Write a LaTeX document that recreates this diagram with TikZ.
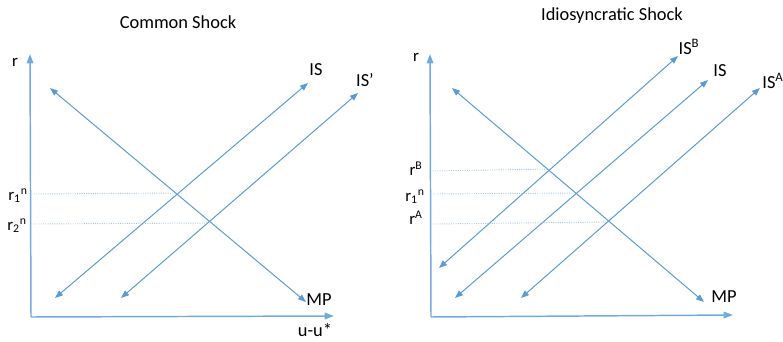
\documentclass[tikz,border=0pt]{standalone}
\usepackage{fontspec}
\setmainfont{Carlito}
\usetikzlibrary{arrows.meta}
\definecolor{lblue}{RGB}{91,155,213}
\definecolor{pblue}{RGB}{165,198,232}
\tikzset{
  % axes
  Ax/.style ={-{Triangle[length=7pt,width=5pt]},line width=1.1pt,color=lblue!85},
  % IS / MP curves, tips on both ends
  Crv/.style={{Triangle[length=6pt,width=4.5pt]}-{Triangle[length=6pt,width=4.5pt]},
              line width=0.75pt,color=lblue},
  % rate levels
  Lvl/.style={densely dotted,line width=0.7pt,color=pblue},
  % text
  Ttl/.style={font=\fontsize{13.8}{15}\selectfont,inner sep=0pt},
  Lab/.style={font=\fontsize{13.8}{15}\selectfont,inner sep=0pt},
  Rl/.style ={font=\fontsize{12.6}{14}\selectfont,inner sep=0pt},
}
\begin{document}
\begin{tikzpicture}[x=0.75pt,y=-0.75pt]
  \useasboundingbox (0,0) rectangle (783,342);

  % ---- Common Shock
  \node[Ttl] at (178,22) (t1) {Common Shock};
  \coordinate (o1) at (31,317);
  \coordinate (y1) at (30,54);
  \coordinate (x1) at (334,316);
  \draw[Ax] (o1)--(y1);
  \draw[Ax] (o1)--(x1);
  \node[Rl] at (15,62) (r1) {r};
  \node[Lab] at (315,330) (u1) {u-u*};

  \coordinate (mpa) at (50,88);   \coordinate (mpb) at (306,302);
  \coordinate (isa) at (55,298);  \coordinate (isb) at (308,83);
  \coordinate (ipa) at (121,298); \coordinate (ipb) at (358,93);
  \draw[Crv] (mpa)--(mpb);
  \draw[Crv] (isa)--(isb);
  \draw[Crv] (ipa)--(ipb);
  \node[Lab] at (316,70) (lis)  {IS};
  \node[Lab] at (365,80) (lisp) {IS’};
  \node[Lab] at (319,300) (lmp) {MP};

  \coordinate (a1) at (34,194); \coordinate (b1) at (177,193);
  \coordinate (a2) at (34,224); \coordinate (b2) at (210,223);
  \draw[Lvl] (a1)--(b1);
  \draw[Lvl] (a2)--(b2);
  \node[Rl] at (18,196) (rn1) {r\textsubscript{1}\textsuperscript{n}};
  \node[Rl] at (17,226) (rn2) {r\textsubscript{2}\textsuperscript{n}};

  % ---- Idiosyncratic Shock
  \node[Ttl] at (612,16) (t2) {Idiosyncratic Shock};
  \coordinate (o2) at (431,317);
  \coordinate (y2) at (430,54);
  \coordinate (x2) at (733,315);
  \draw[Ax] (o2)--(y2);
  \draw[Ax] (o2)--(x2);
  \node[Rl] at (416,57) (r2) {r};

  \coordinate (mqa) at (452,88);  \coordinate (mqb) at (704,302);
  \coordinate (iba) at (439,268); \coordinate (ibb) at (678,56);
  \coordinate (ija) at (455,298); \coordinate (ijb) at (708,80);
  \coordinate (iaa) at (521,298); \coordinate (iab) at (760,88);
  \draw[Crv] (mqa)--(mqb);
  \draw[Crv] (iba)--(ibb);
  \draw[Crv] (ija)--(ijb);
  \draw[Crv] (iaa)--(iab);
  \node[Lab] at (689,47) (lisb) {IS\textsuperscript{B}};
  \node[Lab] at (720,71) (lisj) {IS};
  \node[Lab] at (773,81) (lisa) {IS\textsuperscript{A}};
  \node[Lab] at (724,297) (lmq) {MP};

  \coordinate (c1) at (433,171); \coordinate (d1) at (550,169);
  \coordinate (c2) at (433,194); \coordinate (d2) at (577,193);
  \coordinate (c3) at (433,224); \coordinate (d3) at (610,222);
  \draw[Lvl] (c1)--(d1);
  \draw[Lvl] (c2)--(d2);
  \draw[Lvl] (c3)--(d3);
  \node[Rl] at (416,169) (rb) {r\textsuperscript{B}};
  \node[Rl] at (415,197) (rj) {r\textsubscript{1}\textsuperscript{n}};
  \node[Rl] at (416,218) (ra) {r\textsuperscript{A}};
\end{tikzpicture}
\end{document}
